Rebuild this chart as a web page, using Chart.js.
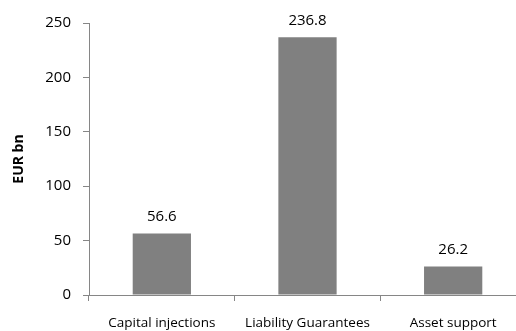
<!DOCTYPE html>
<html>
<head>
<meta charset="utf-8">
<script src="https://cdn.jsdelivr.net/npm/chart.js@4/dist/chart.umd.min.js"></script>
<style>
  html, body { margin: 0; padding: 0; background: #fff; overflow: hidden; }
  #wrap { position: relative; width: 530px; height: 331px; }
</style>
</head>
<body>
<div id="wrap"><canvas id="c" width="530" height="331"></canvas></div>
<script>
// Support measures, EUR bn
const categories = ['Capital injections', 'Liability Guarantees', 'Asset support'];
const amounts = [56.6, 236.8, 26.2];
const yTicks = [0, 50, 100, 150, 200, 250];

const axisGrey = '#868686';
const barGrey = '#808080';
const textFont = 'Open Sans, Noto Sans, sans-serif';

// Writes each bar's value above it
const valueLabels = {
  id: 'valueLabels',
  afterDatasetsDraw(chart) {
    const ctx = chart.ctx;
    const meta = chart.getDatasetMeta(0);
    ctx.save();
    ctx.font = '15px ' + textFont;
    ctx.fillStyle = '#000';
    ctx.textAlign = 'center';
    ctx.textBaseline = 'middle';
    meta.data.forEach((bar, i) => {
      const v = chart.data.datasets[0].data[i];
      ctx.fillText(v.toFixed(1), bar.x, bar.y - 17);
    });
    ctx.restore();
  }
};

new Chart(document.getElementById('c'), {
  type: 'bar',
  data: {
    labels: categories,
    datasets: [{
      data: amounts,
      backgroundColor: barGrey,
      borderWidth: 0,
      categoryPercentage: 1,
      barPercentage: 0.4
    }]
  },
  options: {
    responsive: false,
    animation: false,
    devicePixelRatio: 1,
    layout: { padding: { top: 23, right: 4, left: 0, bottom: 0 } },
    plugins: { legend: { display: false }, tooltip: { enabled: false } },
    scales: {
      x: {
        offset: true,
        grid: {
          offset: true,
          drawOnChartArea: false,
          drawTicks: true,
          tickLength: 6,
          color: axisGrey
        },
        border: { color: axisGrey, width: 1 },
        ticks: {
          color: '#000',
          font: { family: textFont, size: 13.5 },
          padding: 14,
          maxRotation: 0,
          autoSkip: false
        },
        afterFit(scale) { scale.height = 36; }
      },
      y: {
        min: 0,
        max: 250,
        afterBuildTicks(scale) { scale.ticks = yTicks.map(v => ({ value: v })); },
        grid: {
          drawOnChartArea: false,
          drawTicks: true,
          tickLength: 6,
          color: axisGrey
        },
        border: { color: axisGrey, width: 1 },
        ticks: {
          color: '#000',
          font: { family: textFont, size: 15 },
          padding: 12
        },
        title: {
          display: true,
          text: 'EUR bn',
          color: '#000',
          font: { family: textFont, size: 14, weight: 'bold' },
          padding: { top: 11, bottom: 0 }
        },
        afterFit(scale) { scale.width = 89; }
      }
    }
  },
  plugins: [valueLabels]
});
</script>
</body>
</html>
